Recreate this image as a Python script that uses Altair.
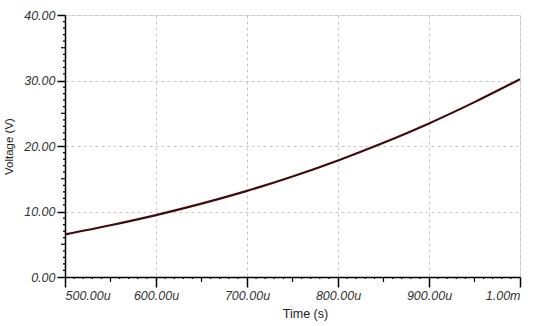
import altair as alt
import pandas as pd

# Data (time in microseconds, voltage in volts)
time_us = [500, 550, 600, 650, 700, 750, 800, 850, 900, 950, 1000]
voltage = [6.5, 7.9, 9.45, 11.2, 13.15, 15.35, 17.8, 20.5, 23.45, 26.7, 30.2]

x_major = [500, 600, 700, 800, 900, 1000]
y_major = [0, 10, 20, 30, 40]

x_mid = [550, 650, 750, 850, 950]
x_minor = [v for v in range(510, 1000, 10) if v % 50 != 0]
y_mid = [5, 15, 25, 35]
y_minor = [v for v in range(1, 40) if v % 5 != 0]

W, H = 455, 262
FONT = "Liberation Sans"

df = pd.DataFrame({"t": time_us, "v": voltage})

xscale = alt.Scale(domain=[500, 1000], nice=False, zero=False)
yscale = alt.Scale(domain=[0, 40], nice=False)

line = alt.Chart(df).mark_line(color="#420b0b", strokeWidth=2.2, interpolate="monotone").encode(
    x=alt.X("t:Q", scale=xscale,
            axis=alt.Axis(values=x_major, title="Time (s)",
                          labelExpr="datum.value >= 1000 ? '1.00m' : format(datum.value, '.2f') + 'u'",
                          grid=True, gridDash=[3, 3], gridColor="#c8c8c8", gridWidth=1,
                          domainColor="#000000", domainWidth=1.5,
                          tickColor="#000000", tickSize=10, tickWidth=1.5,
                          labelFont=FONT, labelFontSize=12.5, labelFontStyle="italic",
                          labelColor="#333333", labelPadding=2,
                          titleFont=FONT, titleFontSize=12.5, titleFontWeight="normal",
                          titleColor="#222222", titlePadding=6, titleX=240)),
    y=alt.Y("v:Q", scale=yscale,
            axis=alt.Axis(values=y_major, title="Voltage (V)", format=".2f",
                          grid=True, gridDash=[3, 3], gridColor="#c8c8c8", gridWidth=1,
                          domainColor="#000000", domainWidth=1.5,
                          tickColor="#000000", tickSize=8, tickWidth=1.5,
                          labelFont=FONT, labelFontSize=12.5, labelFontStyle="italic",
                          labelColor="#333333", labelPadding=2,
                          titleFont=FONT, titleFontSize=11.5, titleFontWeight="normal",
                          titleColor="#222222", titlePadding=9)),
)

def xticks(vals, length):
    d = pd.DataFrame({"t": vals})
    return alt.Chart(d).mark_rule(color="#000000", strokeWidth=1.2).encode(
        x=alt.X("t:Q", scale=xscale), y=alt.value(H), y2=alt.value(H + length))

def yticks(vals, length):
    d = pd.DataFrame({"v": vals})
    return alt.Chart(d).mark_rule(color="#000000", strokeWidth=1.2).encode(
        y=alt.Y("v:Q", scale=yscale), x=alt.value(0), x2=alt.value(-length))

chart = alt.layer(
    line,
    xticks(x_mid, 5), xticks(x_minor, 2),
    yticks(y_mid, 4), yticks(y_minor, 2),
).properties(
    width=W, height=H,
    autosize=alt.AutoSizeParams(type="none"),
    padding={"left": 65, "top": 15, "right": 30, "bottom": 49},
).configure_view(
    stroke="#c4c4c4", strokeWidth=1.2
).configure(background="white")

chart.save("out.html", embed_options={"renderer": "svg", "actions": False})
